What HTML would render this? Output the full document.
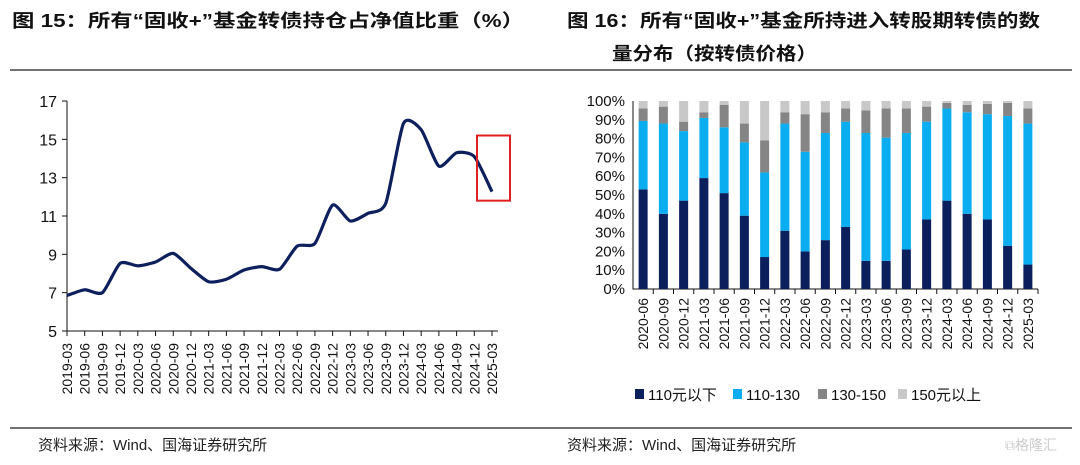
<!DOCTYPE html>
<html><head><meta charset="utf-8">
<style>
body{margin:0;background:#fff;}
svg text{font-family:"Liberation Sans","Noto Sans CJK SC",sans-serif;}
</style></head>
<body>
<svg id="s" width="1080" height="460" xmlns="http://www.w3.org/2000/svg">
<text x="12" y="27" font-size="18" font-weight="bold" fill="#111" textLength="512" lengthAdjust="spacingAndGlyphs">图 15：所有“固收+”基金转债持仓占净值比重（%）</text>
<text x="567" y="27" font-size="18" font-weight="bold" fill="#111" textLength="473" lengthAdjust="spacingAndGlyphs">图 16：所有“固收+”基金所持进入转股期转债的数</text>
<text x="612" y="60" font-size="18" font-weight="bold" fill="#111" textLength="205" lengthAdjust="spacingAndGlyphs">量分布（按转债价格）</text>
<line x1="10" y1="70" x2="1072" y2="70" stroke="#444" stroke-width="1.5"/>
<line x1="10" y1="428" x2="1072" y2="428" stroke="#444" stroke-width="1.5"/>
<text x="38" y="450" font-size="15" fill="#222">资料来源：Wind、国海证券研究所</text>
<text x="567" y="450" font-size="15" fill="#222">资料来源：Wind、国海证券研究所</text>
<text x="1005" y="450" font-size="14" fill="#ccc">⧉格隆汇</text>
<g id="left"></g>
<g id="right"></g>
</svg>
<script>
const lineCats=["2019-03","2019-06","2019-09","2019-12","2020-03","2020-06","2020-09","2020-12","2021-03","2021-06","2021-09","2021-12","2022-03","2022-06","2022-09","2022-12","2023-03","2023-06","2023-09","2023-12","2024-03","2024-06","2024-09","2024-12","2025-03"];
const lineVals=[6.85,7.15,7.0,8.53,8.4,8.6,9.05,8.27,7.57,7.7,8.18,8.36,8.22,9.43,9.57,11.57,10.74,11.14,11.66,15.83,15.5,13.6,14.3,14.1,12.27];
const lineTicks=[5,7,9,11,13,15,17];

const barCats=["2020-06","2020-09","2020-12","2021-03","2021-06","2021-09","2021-12","2022-03","2022-06","2022-09","2022-12","2023-03","2023-06","2023-09","2023-12","2024-03","2024-06","2024-09","2024-12","2025-03"];
const s1=[53,40,47,59,51,39,17,31,20,26,33,15,15,21,37,47,40,37,23,13];
const s2=[36.4,48,37,32,35,39,45,57,53,57,56,68,65.5,62,52,49,54,56,69,75];
const s3=[6.6,9,5,3,12,10,17,6,20,11,7,12,15.5,13,8,3,4,5.5,7,8];
const s4=[4,3,11,6,2,12,21,6,7,6,4,5,4,4,3,1,2,1.5,1,4];
const seriesNames=["110元以下","110-130","130-150","150元以上"];
const pctTicks=[0,10,20,30,40,50,60,70,80,90,100];

const NS="http://www.w3.org/2000/svg";
function mk(p,t,a){const e=document.createElementNS(NS,t);for(const k in a)e.setAttribute(k,a[k]);p.appendChild(e);return e;}

// left line chart
const L=document.getElementById('left');
const lx0=67,lx1=492,ly0=331,ly1=101;
const lxs=i=>lx0+i*(lx1-lx0)/(lineCats.length-1);
const lys=v=>ly0-(v-5)/(17-5)*(ly0-ly1);
let ax=mk(L,'path',{d:`M${lx0} ${ly1}V${ly0}H${lx1+6}`,stroke:'#111',fill:'none','stroke-width':1});

lineTicks.forEach(v=>{
 const t=mk(L,'line',{x1:lx0-5,x2:lx0,y1:lys(v),y2:lys(v),stroke:'#111'});
 
 const tx=mk(L,'text',{x:lx0-10,y:lys(v)+6,'font-size':16,'text-anchor':'end',fill:'#111'});tx.textContent=v;
 
});
lineCats.forEach((c,i)=>{
 const x=lxs(i);
 const t=mk(L,'line',{x1:x,x2:x,y1:ly0,y2:ly0+5,stroke:'#111'});
 
 const tx=mk(L,'text',{x:0,y:0,'font-size':14,'text-anchor':'end',fill:'#111',transform:`translate(${x+5},${ly0+12}) rotate(-90)`});tx.textContent=c;
 
});
const pts=lineVals.map((v,i)=>[lxs(i),lys(v)]);
let d=`M${pts[0][0]} ${pts[0][1]}`;
const tens=9;
for(let i=0;i<pts.length-1;i++){const p0=pts[Math.max(0,i-1)],p1=pts[i],p2=pts[i+1],p3=pts[Math.min(pts.length-1,i+2)];
 d+=`C${p1[0]+(p2[0]-p0[0])/tens} ${p1[1]+(p2[1]-p0[1])/tens} ${p2[0]-(p3[0]-p1[0])/tens} ${p2[1]-(p3[1]-p1[1])/tens} ${p2[0]} ${p2[1]}`;}
const ln=mk(L,'path',{d,stroke:'#0d1f5c',fill:'none','stroke-width':3.2,'stroke-linejoin':'round'});

const box=mk(L,'rect',{x:lxs(24)-15,y:lys(15.2),width:33,height:lys(11.8)-lys(15.2),fill:'none',stroke:'#e02020','stroke-width':2});


// right bar chart
const R=document.getElementById('right');
const bx0=633,bx1=1038,by0=289,by1=101;
const band=(bx1-bx0)/barCats.length;
const bxs=i=>bx0+band*(i+0.5);
const bys=v=>by0-v/100*(by0-by1);
const colors=["#0a1f5c","#0aaef0","#858585","#c8c8c8"];
const series=[s1,s2,s3,s4];
pctTicks.forEach(v=>{
 const tx=mk(R,'text',{x:bx0-8,y:bys(v)+5,'font-size':15,'text-anchor':'end',fill:'#111'});tx.textContent=v+'%';
 
});
const ra=mk(R,'path',{d:`M${bx0} ${by1}V${by0}H${bx1}`,stroke:'#111',fill:'none'});

barCats.forEach((c,i)=>{
 let acc=0;
 series.forEach((s,k)=>{
  const r=mk(R,'rect',{x:bxs(i)-4.5,y:bys(acc+s[i]),width:9,height:bys(acc)-bys(acc+s[i]),fill:colors[k]});
  
  acc+=s[i];
 });
 const t=mk(R,'line',{x1:bx0+band*(i+1),x2:bx0+band*(i+1),y1:by0,y2:by0+5,stroke:'#111'});
 
 const tx=mk(R,'text',{x:0,y:0,'font-size':14,'text-anchor':'end',fill:'#111',transform:`translate(${bxs(i)+5},${by0+9}) rotate(-90)`});tx.textContent=c;
 
});
const legX=[635,733,818,898];
seriesNames.forEach((n,k)=>{
 const r=mk(R,'rect',{x:legX[k],y:389,width:9,height:10,fill:colors[k]});
 
 const tx=mk(R,'text',{x:legX[k]+13,y:400,'font-size':15,fill:'#111'});tx.textContent=n;
 
});
</script>
</body></html>
